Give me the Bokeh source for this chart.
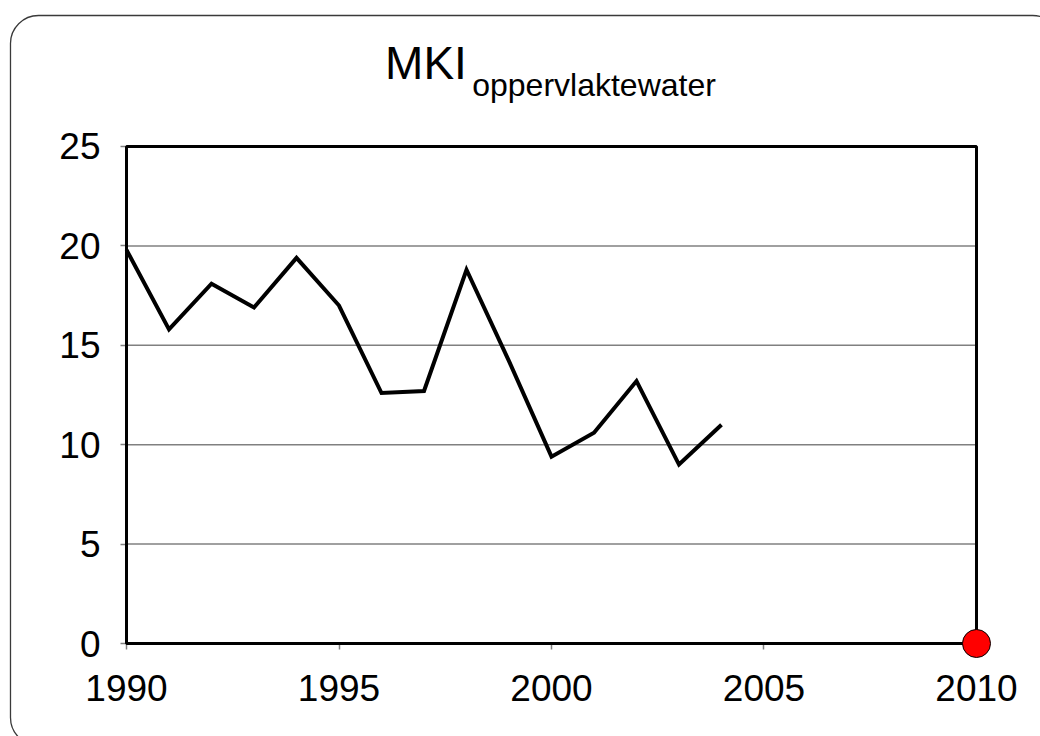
from bokeh.plotting import figure
from bokeh.models import Range1d, Label, BoxAnnotation, FixedTicker, LinearAxis
from bokeh.embed import file_html
from bokeh.resources import INLINE

years = [1990, 1991, 1992, 1993, 1994, 1995, 1996, 1997, 1998, 1999,
         2000, 2001, 2002, 2003, 2004]
mki = [19.8, 15.8, 18.1, 16.9, 19.4, 17.0, 12.6, 12.7, 18.8, 14.2,
       9.4, 10.6, 13.2, 9.0, 11.0]
target_year = [2010]
target_value = [0]
x_ticks = [1990, 1995, 2000, 2005, 2010]
y_ticks = [0, 5, 10, 15, 20, 25]
grid_values = [5, 10, 15, 20]

FONT = "Liberation Sans"
X0, X1 = 1990, 2010
Y0, Y1 = 0, 25

# frame covers the whole canvas; axes are pinned at fixed locations inside it
p = figure(width=1040, height=736, output_backend="svg", toolbar_location=None,
           x_range=Range1d(1987.035, 2011.506), y_range=Range1d(-4.678, 32.344),
           x_axis_location=None, y_axis_location=None, min_border=0)

p.background_fill_color = "white"
p.border_fill_color = "white"
p.outline_line_color = None
p.xgrid.grid_line_color = None
p.ygrid.grid_line_color = None

# horizontal grid lines limited to the plot box
p.segment(x0=[X0] * len(grid_values), x1=[X1] * len(grid_values),
          y0=grid_values, y1=grid_values, line_color="#808080", line_width=1.5,
          level="underlay")

xaxis = LinearAxis(fixed_location=Y0, bounds=(X0, X1),
                   ticker=FixedTicker(ticks=x_ticks))
yaxis = LinearAxis(fixed_location=X0, bounds=(Y0, Y1),
                   ticker=FixedTicker(ticks=y_ticks))
for ax in (xaxis, yaxis):
    ax.axis_line_color = "black"
    ax.axis_line_width = 3
    ax.major_tick_line_color = "#808080"
    ax.major_tick_line_width = 1.5
    ax.major_tick_out = 6
    ax.major_tick_in = 0
    ax.minor_tick_line_color = None
    ax.major_label_text_font = FONT
    ax.major_label_text_font_size = "37px"
    ax.major_label_text_color = "black"
xaxis.major_label_standoff = 25
yaxis.major_label_standoff = 20
p.add_layout(xaxis, "below")
p.add_layout(yaxis, "left")

# plot box (top and right edges)
p.add_layout(BoxAnnotation(left=X0, right=X1, bottom=Y0, top=Y1,
                           fill_color=None, fill_alpha=0,
                           line_color="black", line_alpha=1, line_width=3))

# outer rounded frame
p.add_layout(BoxAnnotation(left=1987.27, right=2011.98, top=31.59, bottom=-5.13,
                           fill_color=None, fill_alpha=0,
                           line_color="#3a3a3a", line_alpha=1, line_width=1.3,
                           border_radius=28))

p.line(years, mki, line_color="black", line_width=4, line_join="miter")
p.scatter(target_year, target_value, size=28, fill_color="#ff0000",
          line_color="black", line_width=1, level="overlay")

p.add_layout(Label(x=1996.085, y=29.175, text="MKI", text_font=FONT,
                   text_font_size="46px", text_color="black",
                   text_baseline="middle"))
p.add_layout(Label(x=1998.134, y=28.09, text="oppervlaktewater", text_font=FONT,
                   text_font_size="32px", text_color="black",
                   text_baseline="middle"))

open("out.html", "w").write(file_html(p, INLINE))
